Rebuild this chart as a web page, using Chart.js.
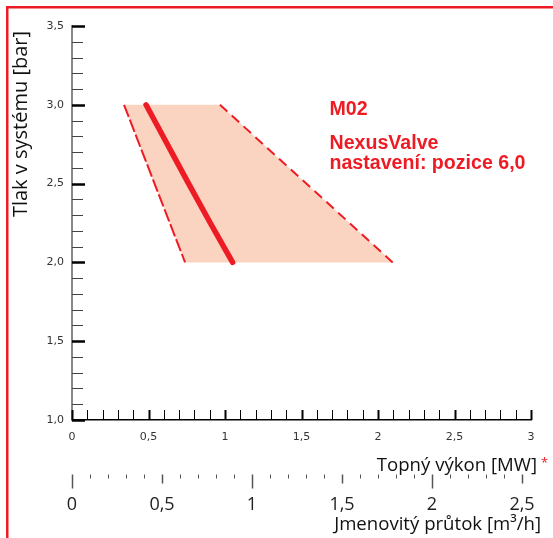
<!DOCTYPE html>
<html>
<head>
<meta charset="utf-8">
<script src="https://cdn.jsdelivr.net/npm/chart.js@4.4.0/dist/chart.umd.min.js"></script>
<style>
  html, body { margin: 0; padding: 0; background: #fff; }
  canvas { display: block; }
</style>
</head>
<body>
<canvas id="graf" width="553" height="538"></canvas>
<script>
// Křivka nastavení ventilu: tlak [bar] / topný výkon [MW]
const tlakKrivka = [3.0, 2.75, 2.5, 2.25, 2.0];
const vykonKrivka = [0.484, 0.623, 0.762, 0.904, 1.05];

// Pracovní oblast (lichoběžník), body v pořadí obrysu
const tlakOblast = [3.0, 3.0, 2.0, 2.0, 3.0];
const vykonOblast = [0.34, 0.967, 2.096, 0.739, 0.34];

// Rozsahy os
const rozsahTlaku = [1.0, 3.5];
const rozsahVykonu = [0, 3];
const rozsahPrutoku = [0, 2.55];

const popisky = ['M02', 'NexusValve', 'nastavení: pozice 6,0'];

const CERVENA = '#ED1C24';
const BROSKEV = '#FBD3C1';

const carka = v => String(v).replace('.', ',');

const bodyKrivky = vykonKrivka.map((x, i) => ({ x: x, y: tlakKrivka[i] }));
const bodyOblasti = vykonOblast.map((x, i) => ({ x: x, y: tlakOblast[i] }));
const levaHrana = [bodyOblasti[0], bodyOblasti[3]];
const pravaHrana = [bodyOblasti[1], bodyOblasti[2]];

// bez přesahu popisků do okrajů
const bezPresahu = s => { s.paddingLeft = 0; s.paddingRight = 0; };

// Vlastní značky na osách, rámeček a texty
const vlastniOsy = {
    id: 'vlastniOsy',
    afterDraw(chart) {
        const ctx = chart.ctx;
        const sx = chart.scales.x;
        const sy = chart.scales.y;
        const sp = chart.scales.prutok;
        ctx.save();

        // rámeček
        ctx.strokeStyle = CERVENA;
        ctx.lineWidth = 2.5;
        ctx.beginPath();
        ctx.moveTo(7.25, 538);
        ctx.lineTo(7.25, 7.25);
        ctx.lineTo(553, 7.25);
        ctx.stroke();

        // osa tlaku
        const x0 = sy.right;
        for (let i = 10; i <= 35; i++) {
            const p = Math.round(sy.getPixelForValue(i / 10)) + 0.5;
            const hlavni = i % 5 === 0;
            ctx.strokeStyle = hlavni ? '#000' : '#444';
            ctx.lineWidth = hlavni ? 2.5 : 1;
            ctx.beginPath();
            ctx.moveTo(x0, p);
            ctx.lineTo(x0 + (hlavni ? 13 : 11), p);
            ctx.stroke();
        }

        // osa výkonu
        const y0 = sx.top;
        for (let i = 0; i <= 30; i++) {
            const p = Math.round(sx.getPixelForValue(i / 10)) + 0.5;
            const hlavni = i % 5 === 0;
            ctx.strokeStyle = '#000';
            ctx.lineWidth = hlavni ? 2 : 1;
            ctx.beginPath();
            ctx.moveTo(p, y0);
            ctx.lineTo(p, y0 - 10);
            ctx.stroke();
        }

        // osa průtoku
        for (let i = 0; i <= 25; i++) {
            const p = Math.round(sp.getPixelForValue(i / 10)) + 0.5;
            let delka = 4;
            if (i % 10 === 0) delka = 14;
            else if (i % 5 === 0) delka = 9;
            ctx.strokeStyle = '#555';
            ctx.lineWidth = i % 5 === 0 ? 1.5 : 1;
            ctx.beginPath();
            ctx.moveTo(p, 474.5);
            ctx.lineTo(p, 474.5 + delka);
            ctx.stroke();
        }

        // název svislé osy
        ctx.fillStyle = '#111';
        ctx.font = '20px "Open Sans"';
        ctx.save();
        ctx.translate(27, 31);
        ctx.rotate(-Math.PI / 2);
        ctx.textAlign = 'right';
        ctx.textBaseline = 'alphabetic';
        ctx.fillText('Tlak v systému [bar]', 0, 0);
        ctx.restore();

        // názvy vodorovných os
        ctx.textAlign = 'right';
        ctx.textBaseline = 'alphabetic';
        ctx.font = '18.6px "Open Sans"';
        ctx.fillText('Topný výkon [MW]', 537, 471);
        ctx.fillText('Jmenovitý průtok [m³/h]', 541, 529.5);
        ctx.textAlign = 'left';
        ctx.fillStyle = CERVENA;
        ctx.font = '13px "Open Sans"';
        ctx.fillText('*', 541, 467);

        // popisky v grafu
        ctx.font = 'bold 19.6px "Liberation Sans"';
        ctx.fillText(popisky[0], 329.5, 115);
        ctx.fillText(popisky[1], 329.5, 149);
        ctx.fillText(popisky[2], 329.5, 168.5);

        ctx.restore();
    }
};

new Chart(document.getElementById('graf'), {
    type: 'scatter',
    data: {
        datasets: [
            {
                data: bodyKrivky,
                showLine: true,
                borderColor: CERVENA,
                borderWidth: 5.5,
                borderCapStyle: 'round',
                cubicInterpolationMode: 'monotone',
                pointRadius: 0
            },
            {
                data: levaHrana,
                showLine: true,
                borderColor: CERVENA,
                borderWidth: 2,
                borderDash: [13, 3],
                pointRadius: 0
            },
            {
                data: pravaHrana,
                showLine: true,
                borderColor: CERVENA,
                borderWidth: 2,
                borderDash: [10, 6],
                pointRadius: 0
            },
            {
                data: bodyOblasti,
                showLine: true,
                fill: 'shape',
                backgroundColor: BROSKEV,
                borderWidth: 0,
                pointRadius: 0
            }
        ]
    },
    options: {
        responsive: false,
        animation: false,
        devicePixelRatio: 1,
        layout: { padding: { top: 26, right: 22, left: 0, bottom: 0 } },
        plugins: {
            legend: { display: false },
            tooltip: { enabled: false }
        },
        scales: {
            x: {
                type: 'linear',
                position: 'bottom',
                weight: 0,
                min: rozsahVykonu[0],
                max: rozsahVykonu[1],
                ticks: {
                    stepSize: 0.5,
                    padding: 11,
                    maxRotation: 0,
                    autoSkip: false,
                    color: '#333',
                    font: { family: 'DejaVu Sans', size: 11 },
                    callback: v => carka(v)
                },
                grid: { display: false, drawTicks: false },
                border: { display: true, color: '#000', width: 1.5 },
                afterFit: s => { s.height = 50; bezPresahu(s); }
            },
            prutok: {
                type: 'linear',
                position: 'bottom',
                axis: 'x',
                weight: 1,
                min: rozsahPrutoku[0],
                max: rozsahPrutoku[1],
                ticks: {
                    stepSize: 0.5,
                    includeBounds: false,
                    padding: 24,
                    maxRotation: 0,
                    autoSkip: false,
                    color: '#222',
                    font: { family: 'Open Sans', size: 18 },
                    callback: v => carka(v)
                },
                grid: { display: false, drawTicks: false },
                border: { display: false },
                afterFit: s => { s.height = 68; bezPresahu(s); }
            },
            y: {
                type: 'linear',
                min: rozsahTlaku[0],
                max: rozsahTlaku[1],
                ticks: {
                    stepSize: 0.5,
                    padding: 8,
                    color: '#333',
                    font: { family: 'DejaVu Sans', size: 11 },
                    callback: v => v.toFixed(1).replace('.', ',')
                },
                grid: { display: false, drawTicks: false },
                border: { display: true, color: '#888', width: 2 },
                afterFit: s => { s.width = 72; }
            }
        }
    },
    plugins: [vlastniOsy]
});
</script>
</body>
</html>
